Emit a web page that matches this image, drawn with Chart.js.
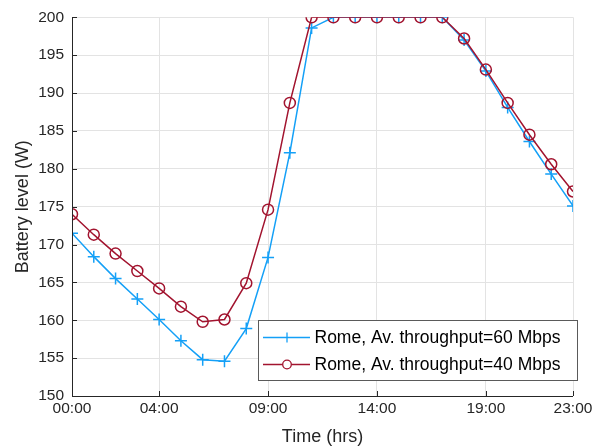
<!DOCTYPE html>
<html>
<head>
<meta charset="utf-8">
<script src="https://cdn.jsdelivr.net/npm/chart.js@4.4.0/dist/chart.umd.min.js"></script>
<style>
  html, body { margin: 0; padding: 0; background: #fff; }
  #wrap { width: 604px; height: 448px; }
</style>
</head>
<body>
<div id="wrap"><canvas id="chart" width="604" height="448"></canvas></div>
<script>
// hours of the day
const hours = [0,1,2,3,4,5,6,7,8,9,10,11,12,13,14,15,16,17,18,19,20,21,22,23];
const xTicks = [0, 4, 9, 14, 19, 23];

// battery level (W)
const rome60 = [171.5,168.4,165.5,162.8,160.1,157.3,154.8,154.6,158.9,168.3,182.1,198.6,
                200,200,200,200,200,200,197.0,192.9,188.1,183.6,179.3,175.1];
const rome40 = [174.0,171.3,168.8,166.5,164.2,161.8,159.8,160.1,164.9,174.6,188.7,200,
                200,200,200,200,200,200,197.2,193.1,188.7,184.5,180.6,177.0];

const labels60 = "Rome, Av. throughput=60 Mbps";
const labels40 = "Rome, Av. throughput=40 Mbps";

const blue = "#14a0f7";
const red = "#a2142f";
const axisColor = "#262626";
const fontFamily = "'Liberation Sans', Arial, Helvetica, sans-serif";

function toPoints(vals) {
    return hours.map((h, i) => ({ x: h, y: vals[i] }));
}

function pad2(n) {
    return (n < 10 ? "0" : "") + n + ":00";
}

// axes lines, inward ticks and the boxed legend
const decorPlugin = {
    id: "decor",
    afterDatasetsDraw(chart) {
        const ctx = chart.ctx;
        const area = chart.chartArea;
        const xs = chart.scales.x;
        const ys = chart.scales.y;
        ctx.save();
        ctx.strokeStyle = axisColor;
        ctx.lineWidth = 1;
        ctx.beginPath();
        ctx.moveTo(area.left + 0.5, area.top);
        ctx.lineTo(area.left + 0.5, area.bottom + 0.5);
        ctx.lineTo(area.right, area.bottom + 0.5);
        ctx.stroke();
        ctx.beginPath();
        xTicks.forEach(t => {
            const px = Math.round(xs.getPixelForValue(t)) + 0.5;
            ctx.moveTo(px, area.bottom);
            ctx.lineTo(px, area.bottom - 5);
        });
        for (let v = 150; v <= 200; v += 5) {
            const py = Math.round(ys.getPixelForValue(v)) + 0.5;
            ctx.moveTo(area.left, py);
            ctx.lineTo(area.left + 5, py);
        }
        ctx.stroke();

        // legend
        const bx = 258.5, by = 320.5, bw = 319, bh = 60;
        ctx.fillStyle = "#fff";
        ctx.fillRect(bx, by, bw, bh);
        ctx.strokeStyle = "#5a5a5a";
        ctx.strokeRect(bx, by, bw, bh);
        ctx.font = "17.5px " + fontFamily;
        ctx.textBaseline = "middle";
        const rows = [
            { label: labels60, color: blue, marker: "cross", y: by + 17 },
            { label: labels40, color: red, marker: "circle", y: by + 44 }
        ];
        rows.forEach(r => {
            ctx.strokeStyle = r.color;
            ctx.lineWidth = 1.3;
            ctx.beginPath();
            ctx.moveTo(bx + 4.5, r.y);
            ctx.lineTo(bx + 51.5, r.y);
            ctx.stroke();
            ctx.beginPath();
            const cx = bx + 28.5;
            if (r.marker === "cross") {
                ctx.moveTo(cx, r.y - 5);
                ctx.lineTo(cx, r.y + 5);
            } else {
                ctx.fillStyle = "#fff";
                ctx.arc(cx, r.y, 4.3, 0, Math.PI * 2);
                ctx.fill();
            }
            ctx.stroke();
            ctx.fillStyle = "#000";
            ctx.fillText(r.label, bx + 56, r.y + 1);
        });
        ctx.restore();
    }
};

const ctx = document.getElementById("chart").getContext("2d");
new Chart(ctx, {
    type: "line",
    data: {
        datasets: [{
            label: labels60,
            data: toPoints(rome60),
            borderColor: blue,
            backgroundColor: "transparent",
            borderWidth: 1.5,
            pointStyle: "cross",
            pointRadius: 6,
            pointBorderWidth: 1.5,
            pointBorderColor: blue,
            order: 1
        }, {
            label: labels40,
            data: toPoints(rome40),
            borderColor: red,
            backgroundColor: "transparent",
            borderWidth: 1.5,
            pointStyle: "circle",
            pointRadius: 5.5,
            pointBorderWidth: 1.5,
            pointBorderColor: red,
            pointBackgroundColor: "transparent",
            order: 0
        }]
    },
    options: {
        responsive: false,
        animation: false,
        devicePixelRatio: 1,
        layout: { padding: { top: 17, right: 31, left: 0, bottom: 0 } },
        plugins: {
            legend: { display: false },
            tooltip: { enabled: false }
        },
        scales: {
            x: {
                type: "linear",
                min: 0,
                max: 23,
                afterBuildTicks: scale => {
                    scale.ticks = xTicks.map(v => ({ value: v }));
                },
                afterFit: scale => { scale.height = 52; },
                ticks: {
                    autoSkip: false,
                    maxRotation: 0,
                    padding: 3,
                    color: axisColor,
                    font: { family: fontFamily, size: 15.5 },
                    callback: v => pad2(v)
                },
                grid: { color: "#e3e3e3", drawTicks: false, lineWidth: 1 },
                border: { display: false },
                title: {
                    display: true,
                    text: "Time (hrs)",
                    color: axisColor,
                    font: { family: fontFamily, size: 18 },
                    padding: { top: 0, bottom: 0 }
                }
            },
            y: {
                min: 150,
                max: 200,
                afterFit: scale => { scale.width = 72; },
                ticks: {
                    stepSize: 5,
                    padding: 8,
                    color: axisColor,
                    font: { family: fontFamily, size: 15.5 }
                },
                grid: { color: "#e3e3e3", drawTicks: false, lineWidth: 1 },
                border: { display: false },
                title: {
                    display: true,
                    text: "Battery level (W)",
                    color: axisColor,
                    font: { family: fontFamily, size: 18 },
                    padding: { top: 12, bottom: 0 }
                }
            }
        }
    },
    plugins: [decorPlugin]
});
</script>
</body>
</html>
